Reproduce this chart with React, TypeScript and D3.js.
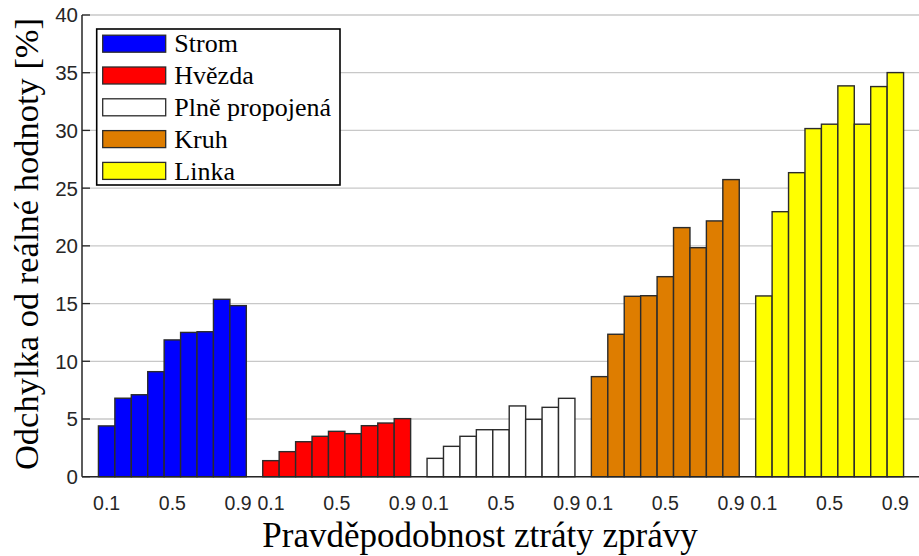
import React from "react";
import * as d3 from "d3";

const probabilities = ["0.1", "0.2", "0.3", "0.4", "0.5", "0.6", "0.7", "0.8", "0.9"];
const shownTicks = ["0.1", "0.5", "0.9"];
const topologies = ["Strom", "Hvězda", "Plně propojená", "Kruh", "Linka"];
const colors = ["#0000ff", "#ff0000", "#ffffff", "#de7d00", "#ffff00"];

const strom = [4.4, 6.8, 7.1, 9.1, 11.85, 12.5, 12.56, 15.37, 14.82];
const hvezda = [1.39, 2.17, 3.03, 3.5, 3.93, 3.73, 4.42, 4.65, 5.03];
const plne = [1.59, 2.63, 3.5, 4.07, 4.07, 6.13, 4.97, 6.01, 6.79];
const kruh = [8.67, 12.34, 15.63, 15.68, 17.33, 21.58, 19.84, 22.16, 25.74];
const linka = [15.66, 22.96, 26.34, 30.16, 30.54, 33.86, 30.54, 33.8, 35.01];

const seriesValues = [strom, hvezda, plne, kruh, linka];
const yTicks = [0, 5, 10, 15, 20, 25, 30, 35, 40];

const W = 919;
const H = 556;
const left = 82;
const right = 920;
const top = 15;
const bottom = 476.7;

export default function App() {
  const x = d3.scaleLinear().domain([0, 51]).range([left, right]);
  const y = d3.scaleLinear().domain([0, 40]).range([bottom, top]);
  const axisColor = "#262626";
  const sans = "'Liberation Sans', Arial, Helvetica, sans-serif";
  const serif = "'Liberation Serif', 'Times New Roman', serif";

  const bars: { g: number; j: number; v: number }[] = [];
  seriesValues.forEach((vals, g) => vals.forEach((v, j) => bars.push({ g, j, v })));

  const slot = (g: number, j: number) => 1 + g * 10 + j;

  const legendX = 96.7;
  const legendY = 29;
  const legendW = 243.3;
  const legendH = 156;
  const rowStep = 31.8;
  const rowStart = 43.7;

  return (
    <svg
      width={W}
      height={H}
      style={{ position: "absolute", left: 0, top: 0, background: "#fff" }}
    >
      <rect x={0} y={0} width={W} height={H} fill="#fff" />
      {yTicks.map((t) => (
        <line
          key={"g" + t}
          x1={left}
          x2={right}
          y1={y(t)}
          y2={y(t)}
          stroke="#c8c8c8"
          strokeWidth={1.3}
        />
      ))}
      {bars.map((b, i) => {
        const s = slot(b.g, b.j);
        return (
          <rect
            key={"b" + i}
            x={x(s)}
            y={y(b.v)}
            width={x(s + 1) - x(s)}
            height={y(0) - y(b.v)}
            fill={colors[b.g]}
            stroke="#2b2b2b"
            strokeWidth={1.4}
          />
        );
      })}
      <line x1={left} x2={right} y1={bottom} y2={bottom} stroke={axisColor} strokeWidth={1.5} />
      <line x1={left} x2={left} y1={top} y2={bottom} stroke={axisColor} strokeWidth={1.5} />
      {yTicks.map((t) => (
        <g key={"yt" + t}>
          <line x1={left} x2={left + 8} y1={y(t)} y2={y(t)} stroke={axisColor} strokeWidth={1.3} />
          <text
            x={left - 4}
            y={y(t)}
            dy="0.36em"
            textAnchor="end"
            fontFamily={sans}
            fontSize={20.5}
            fill={axisColor}
          >
            {t}
          </text>
        </g>
      ))}
      {topologies.map((_, g) =>
        probabilities.map((p, j) =>
          shownTicks.includes(p) ? (
            <text
              key={"xt" + g + "-" + j}
              x={x(slot(g, j) + 0.5)}
              y={510}
              textAnchor="middle"
              fontFamily={sans}
              fontSize={19.5}
              fill={axisColor}
            >
              {p}
            </text>
          ) : null
        )
      )}
      <text
        x={480}
        y={547}
        textAnchor="middle"
        fontFamily={serif}
        fontSize={35}
        fill="#000"
      >
        Pravděpodobnost ztráty zprávy
      </text>
      <text
        transform={`translate(38, 244) rotate(-90)`}
        textAnchor="middle"
        fontFamily={serif}
        fontSize={34.5}
        fill="#000"
      >
        Odchylka od reálné hodnoty [%]
      </text>
      <rect
        x={legendX}
        y={legendY}
        width={legendW}
        height={legendH}
        fill="#fff"
        stroke="#000"
        strokeWidth={1.6}
      />
      {topologies.map((name, i) => {
        const cy = rowStart + i * rowStep;
        return (
          <g key={"lg" + i}>
            <rect
              x={102.7}
              y={cy - 8.5}
              width={63}
              height={17}
              fill={colors[i]}
              stroke="#2b2b2b"
              strokeWidth={1.3}
            />
            <text x={174.3} y={cy + 8.7} fontFamily={serif} fontSize={26} fill="#000">
              {name}
            </text>
          </g>
        );
      })}
    </svg>
  );
}
